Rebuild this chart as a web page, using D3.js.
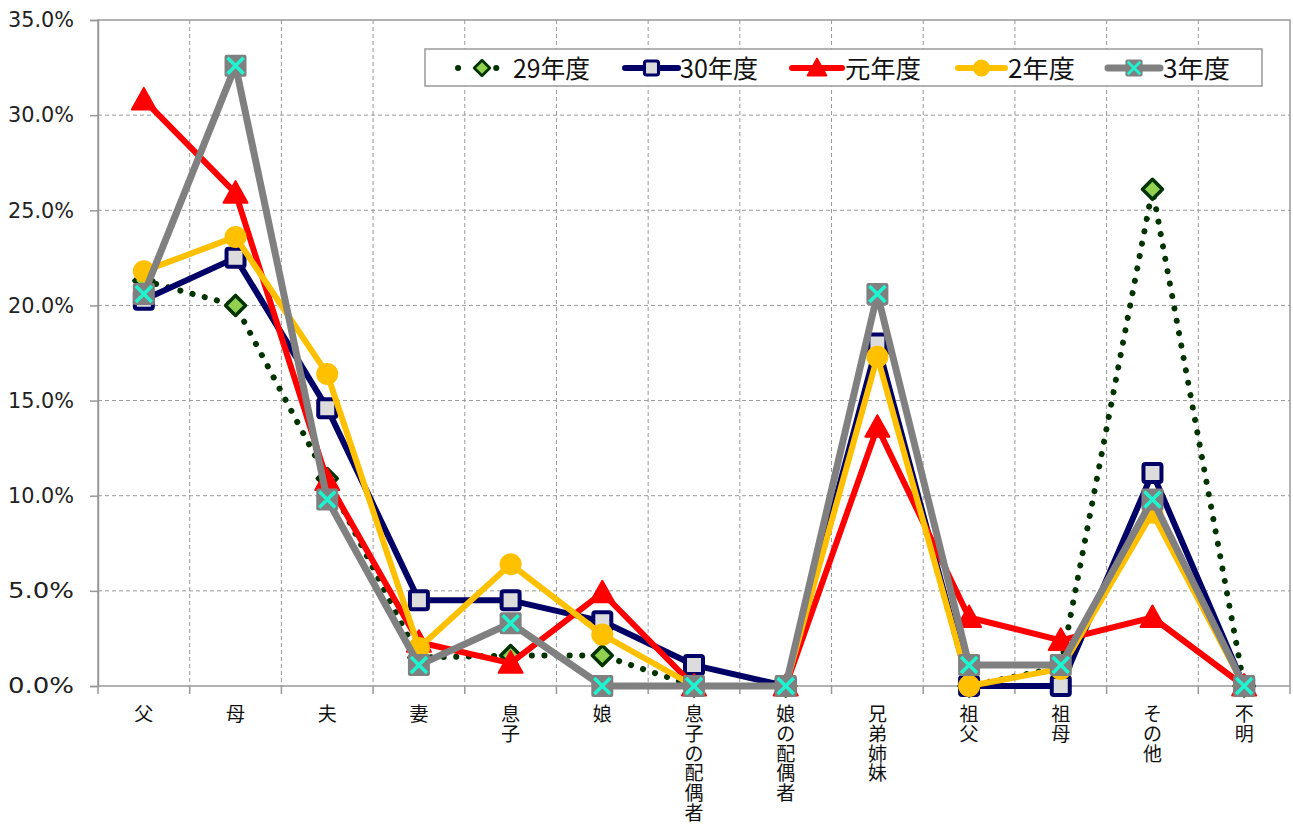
<!DOCTYPE html>
<html>
<head>
<meta charset="utf-8">
<script src="https://cdn.jsdelivr.net/npm/d3@7"></script>
<style>
  body { margin: 0; background: #fff; }
  svg { display: block; }
</style>
</head>
<body>
<div id="chart"></div>
<script>
// categories and values (%)
const categories = ["父", "母", "夫", "妻", "息子", "娘", "息子の配偶者", "娘の配偶者", "兄弟姉妹", "祖父", "祖母", "その他", "不明"];
const seriesNames = ["29年度", "30年度", "元年度", "2年度", "3年度"];
const h29 = [21.3, 20.0, 10.9, 1.5, 1.6, 1.6, 0, 0, 17.5, 0, 1.0, 26.1, 0];
const h30 = [20.3, 22.5, 14.6, 4.5, 4.5, 3.4, 1.1, 0, 18.0, 0, 0, 11.2, 0];
const r1  = [30.8, 25.9, 10.8, 2.3, 1.2, 4.9, 0, 0, 13.6, 3.6, 2.4, 3.6, 0];
const r2  = [21.8, 23.6, 16.4, 2.0, 6.4, 2.7, 0, 0, 17.3, 0, 0.9, 9.1, 0];
const r3  = [20.6, 32.6, 9.8, 1.1, 3.3, 0, 0, 0, 20.6, 1.1, 1.1, 9.8, 0];
const yTicks = [0, 5, 10, 15, 20, 25, 30, 35];

const W = 1293, H = 825;
const pLeft = 98, pRight = 1290, pTop = 20, pBottom = 686;

const svg = d3.select("#chart").append("svg")
  .attr("width", W).attr("height", H);

const x = d3.scaleBand().domain(categories).range([pLeft, pRight]);
const y = d3.scaleLinear().domain([0, 35]).range([pBottom, pTop]);
const cx = c => x(c) + x.bandwidth() / 2;

// grid
const grid = svg.append("g");
grid.selectAll("line.h").data(yTicks.filter(d => d > 0 && d < 35)).enter().append("line")
  .attr("x1", pLeft).attr("x2", pRight)
  .attr("y1", d => y(d)).attr("y2", d => y(d))
  .attr("stroke", "#999").attr("stroke-width", 1).attr("stroke-dasharray", "4 3");
grid.selectAll("line.v").data(categories.slice(1)).enter().append("line")
  .attr("x1", d => x(d)).attr("x2", d => x(d))
  .attr("y1", pTop).attr("y2", pBottom)
  .attr("stroke", "#999").attr("stroke-width", 1).attr("stroke-dasharray", "4 3");

// plot border
svg.append("rect")
  .attr("x", pLeft).attr("y", pTop).attr("width", pRight - pLeft).attr("height", pBottom - pTop)
  .attr("fill", "none").attr("stroke", "#999").attr("stroke-width", 1.5);

// y axis
const yAxis = d3.axisLeft(y).tickValues(yTicks).tickSize(8).tickPadding(16)
  .tickFormat(d => d.toFixed(1) + "%");
const ya = svg.append("g").attr("transform", `translate(${pLeft},0)`).call(yAxis);
ya.select(".domain").attr("stroke", "#999").attr("stroke-width", 1.5);
ya.selectAll(".tick line").attr("stroke", "#999").attr("stroke-width", 1.5);
ya.selectAll("text").attr("font-family", "'DejaVu Sans', Verdana, sans-serif")
  .attr("font-size", 21).attr("fill", "#222")
  .attr("textLength", 66).attr("lengthAdjust", "spacingAndGlyphs");

// x axis ticks at category boundaries
svg.append("g").selectAll("line").data(categories).enter().append("line")
  .attr("x1", d => x(d)).attr("x2", d => x(d))
  .attr("y1", pBottom).attr("y2", pBottom + 8)
  .attr("stroke", "#999").attr("stroke-width", 1.5);
svg.append("line").attr("x1", pRight).attr("x2", pRight)
  .attr("y1", pBottom).attr("y2", pBottom + 8)
  .attr("stroke", "#999").attr("stroke-width", 1.5);

// vertical category labels
const lab = svg.append("g").selectAll("text").data(categories).enter().append("text")
  .attr("text-anchor", "middle")
  .attr("font-family", "'Noto Sans CJK JP', sans-serif")
  .attr("font-size", 19).attr("fill", "#111");
lab.each(function(d) {
  const t = d3.select(this);
  Array.from(d).forEach((ch, i) => {
    t.append("tspan").attr("x", cx(d)).attr("y", 721 + i * 19.8).text(ch);
  });
});

// series styles
const series = [
  { name: seriesNames[0], values: h29, color: "#003300", width: 6, dash: "0.1 12.5", marker: "diamond" },
  { name: seriesNames[1], values: h30, color: "#000066", width: 6, dash: null, marker: "square" },
  { name: seriesNames[2], values: r1,  color: "#ff0000", width: 6, dash: null, marker: "triangle" },
  { name: seriesNames[3], values: r2,  color: "#ffc000", width: 6, dash: null, marker: "circle" },
  { name: seriesNames[4], values: r3,  color: "#808080", width: 7, dash: null, marker: "xbox" }
];

function drawMarker(g, type, px, py, scale) {
  const s = scale || 1;
  if (type === "diamond") {
    const r = 10 * s;
    g.append("path")
      .attr("d", `M${px},${py - r}L${px + r},${py}L${px},${py + r}L${px - r},${py}Z`)
      .attr("fill", "#92d050").attr("stroke", "#003300").attr("stroke-width", 3.5 * s)
      .attr("stroke-linejoin", "round");
  } else if (type === "square") {
    const r = 9 * s;
    g.append("rect").attr("x", px - r).attr("y", py - r).attr("width", 2 * r).attr("height", 2 * r)
      .attr("rx", 2)
      .attr("fill", "#dcdcdc").attr("stroke", "#000066").attr("stroke-width", 4 * s);
  } else if (type === "triangle") {
    const r = 12 * s;
    g.append("path")
      .attr("d", `M${px},${py - r}L${px + r},${py + r * 0.8}L${px - r},${py + r * 0.8}Z`)
      .attr("fill", "#ff0000").attr("stroke", "#ff0000").attr("stroke-width", 2)
      .attr("stroke-linejoin", "round");
  } else if (type === "circle") {
    g.append("circle").attr("cx", px).attr("cy", py).attr("r", 11 * s)
      .attr("fill", "#ffc000");
  } else if (type === "xbox") {
    const r = 11 * s, k = 8 * s;
    g.append("rect").attr("x", px - r).attr("y", py - r).attr("width", 2 * r).attr("height", 2 * r)
      .attr("rx", 2).attr("fill", "#808080");
    g.append("path")
      .attr("d", `M${px - k},${py - k}L${px + k},${py + k}M${px + k},${py - k}L${px - k},${py + k}`)
      .attr("stroke", "#1ef5d0").attr("stroke-width", 3.5 * s);
  }
}

const line = d3.line().x((d, i) => cx(categories[i])).y(d => y(d));

series.forEach(s => {
  const g = svg.append("g");
  g.append("path").datum(s.values)
    .attr("d", line)
    .attr("fill", "none")
    .attr("stroke", s.color)
    .attr("stroke-width", s.width)
    .attr("stroke-linecap", "round")
    .attr("stroke-linejoin", "round")
    .attr("stroke-dasharray", s.dash);
  s.values.forEach((v, i) => drawMarker(g, s.marker, cx(categories[i]), y(v)));
});

// legend
const lg = svg.append("g");
lg.append("rect").attr("x", 425).attr("y", 49).attr("width", 837).attr("height", 37)
  .attr("fill", "#fff").attr("stroke", "#999").attr("stroke-width", 1.5);
const legendSample = [[458, 498], [625, 678], [792, 842], [958, 1005], [1108, 1160]];
const legendText = [[513, 77], [680, 78], [845, 76], [1008, 67], [1163, 67]];
series.forEach((s, i) => {
  const [sx1, sx2] = legendSample[i], ly = 68;
  lg.append("line").attr("x1", sx1).attr("x2", sx2).attr("y1", ly).attr("y2", ly)
    .attr("stroke", s.color).attr("stroke-width", s.width)
    .attr("stroke-linecap", "round")
    .attr("stroke-dasharray", s.dash ? "0.1 19" : null);
  drawMarker(lg, s.marker, (i === 0 ? 482 : (sx1 + sx2) / 2), ly, 0.78);
  lg.append("text").attr("x", legendText[i][0]).attr("y", ly + 10)
    .attr("font-family", "'Noto Sans CJK JP', sans-serif")
    .attr("font-size", 25).attr("fill", "#111")
    .attr("textLength", legendText[i][1]).attr("lengthAdjust", "spacingAndGlyphs")
    .text(s.name);
});
</script>
</body>
</html>
